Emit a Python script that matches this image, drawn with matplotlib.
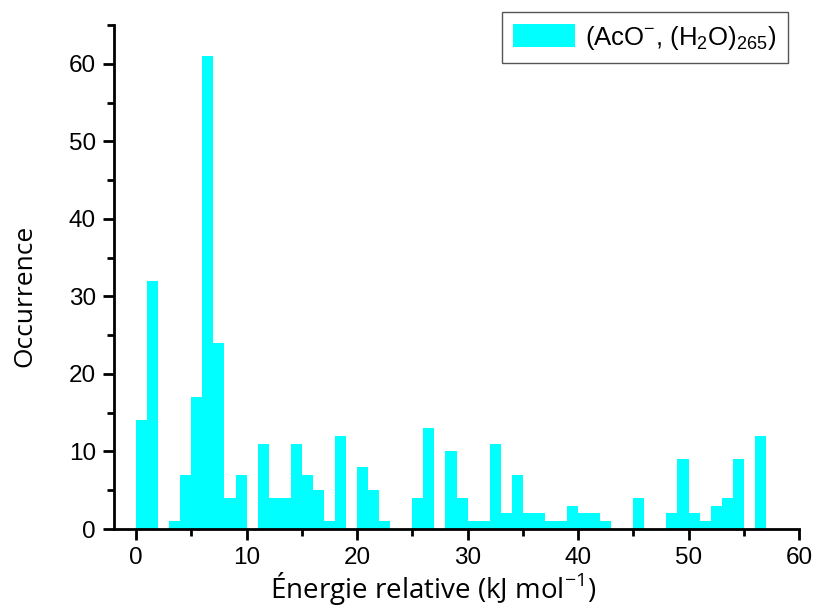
import matplotlib.pyplot as plt
from matplotlib.ticker import MultipleLocator
import numpy as np

# histogram bins (left edge, kJ/mol) and counts
bin_left = np.arange(0, 57)
counts = [14, 32, 0, 1, 7, 17, 61, 24, 4, 7,
          0, 11, 4, 4, 11, 7, 5, 1, 12, 0,
          8, 5, 1, 0, 0, 4, 13, 0, 10, 4,
          1, 1, 11, 2, 7, 2, 2, 1, 1, 3,
          2, 2, 1, 0, 0, 4, 0, 0, 2, 9,
          2, 1, 3, 4, 9, 0, 12]
label = r'(AcO$^{\mathregular{-}}$, (H$_{\mathregular{2}}$O)$_{\mathregular{265}}$)'

plt.rcParams['font.family'] = ['Liberation Sans', 'DejaVu Sans']
plt.rcParams['mathtext.fontset'] = 'custom'
plt.rcParams['mathtext.rm'] = 'Liberation Sans'

fig = plt.figure(figsize=(8.16, 6.06), dpi=100)
ax = fig.add_axes([114/816, 77/606, (799-114)/816, (529-25)/606])

ax.bar(bin_left, counts, width=1, align='edge', color='#00FFFF', edgecolor='none', label=label)

ax.set_xlim(-2, 60)
ax.set_ylim(0, 65)
ax.xaxis.set_major_locator(MultipleLocator(10))
ax.xaxis.set_minor_locator(MultipleLocator(5))
ax.yaxis.set_major_locator(MultipleLocator(10))
ax.yaxis.set_minor_locator(MultipleLocator(5))

for s in ['top', 'right']:
    ax.spines[s].set_visible(False)
for s in ['left', 'bottom']:
    ax.spines[s].set_linewidth(2)

ax.tick_params(which='major', direction='out', length=8, width=2, labelsize=17.5, pad=5)
ax.tick_params(which='minor', direction='out', length=5, width=2)

ax.set_xlabel(r'Énergie relative (kJ mol$^{\mathregular{-1}}$)', fontsize=20,
              family=['Open Sans', 'DejaVu Sans'])
ax.set_ylabel('Occurrence', fontsize=19, family=['Open Sans', 'DejaVu Sans'])
ax.xaxis.set_label_coords(0.466, -0.082)
ax.yaxis.set_label_coords(-0.112, 0.462)

leg = ax.legend(loc='upper right', bbox_to_anchor=(788/816, 1 - 12/606), bbox_transform=fig.transFigure,
                fontsize=18.5, fancybox=False, edgecolor='#555555', framealpha=1, borderaxespad=0,
                handlelength=2.4, handleheight=1.0, handletextpad=0.4, borderpad=0.45)
leg.get_frame().set_linewidth(1)

fig.savefig('out.png', dpi=100)
